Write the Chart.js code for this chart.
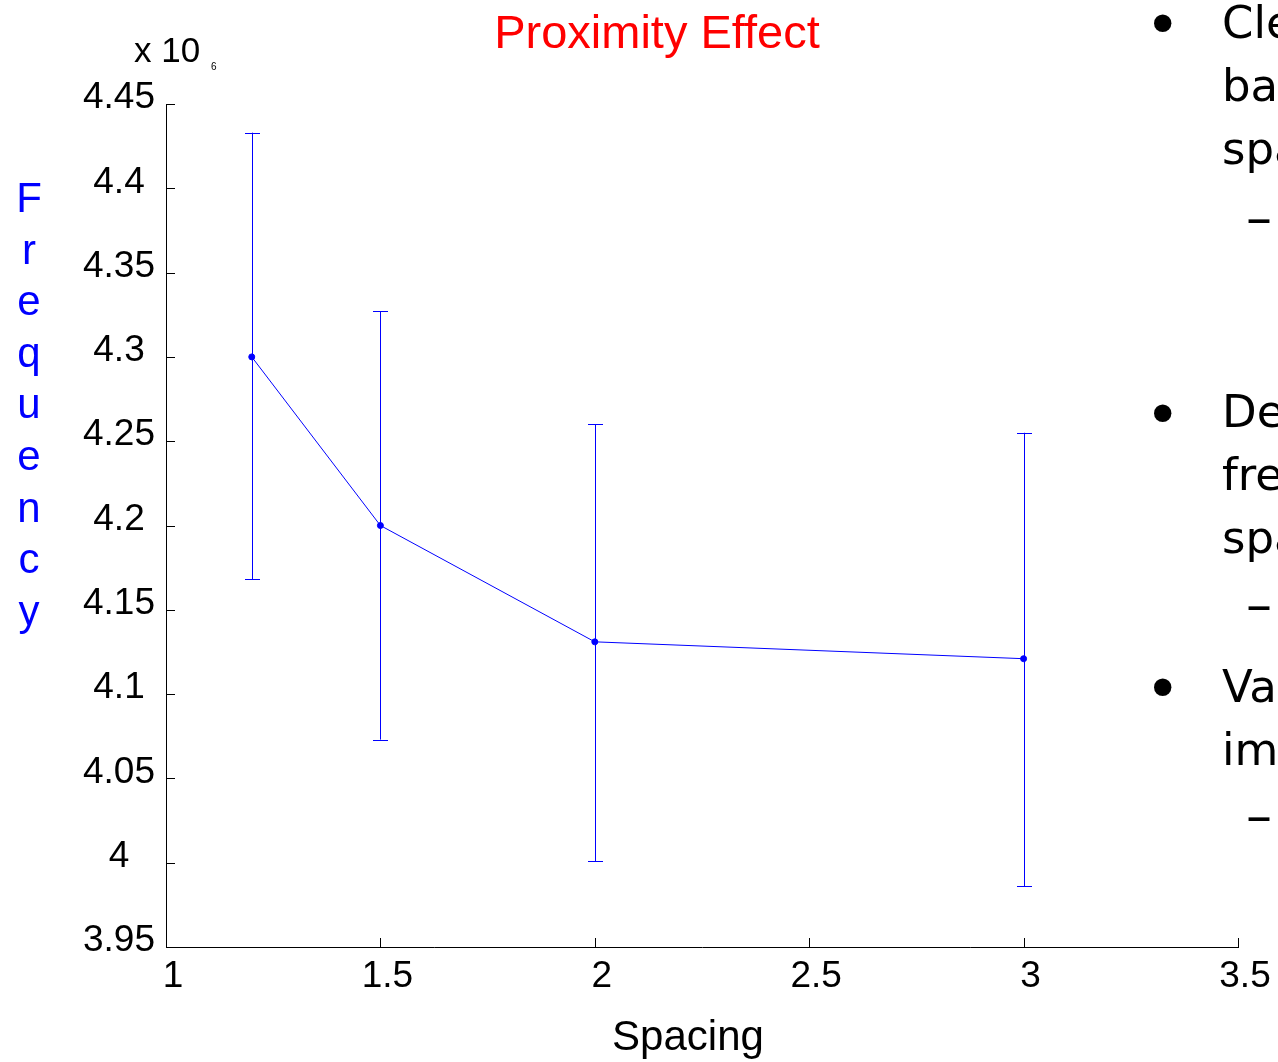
<!DOCTYPE html>
<html>
<head>
<meta charset="utf-8">
<script src="https://cdn.jsdelivr.net/npm/chart.js@4.4.1/dist/chart.umd.min.js"></script>
<style>
  html, body { margin: 0; padding: 0; background: #fff; overflow: hidden; }
  #wrap { position: relative; width: 1278px; height: 1062px; overflow: hidden; }
  #chart { position: absolute; left: 0; top: 0; }
  .lbl { position: absolute; font-family: 'Liberation Sans', Arial, sans-serif; line-height: 1; white-space: nowrap; }
  .slide { position: absolute; font-family: 'DejaVu Sans', Verdana, sans-serif; font-size: 45px; line-height: 45px; white-space: nowrap; color: #000; }
  .bul { font-size: 60px; line-height: 60px; }
  .dash { font-size: 52px; line-height: 52px; }
</style>
</head>
<body>
<div id="wrap">
  <canvas id="chart" width="1278" height="1062"></canvas>

  <div class="lbl" style="left:657px; top:8px; font-size:47px; color:#ff0000; transform:translateX(-50%);">Proximity Effect</div>
  <div class="lbl" style="left:134px; top:32px; font-size:35px; color:#000;">x 10</div>
  <div class="lbl" style="left:211px; top:62px; font-size:10px; color:#000;">6</div>
  <div class="lbl" style="left:8px; top:172px; width:42px; text-align:center; font-size:42px; line-height:51.6px; color:#0000ff;">F<br>r<br>e<br>q<br>u<br>e<br>n<br>c<br>y</div>
  <div class="lbl" style="left:688px; top:1015px; font-size:42px; color:#000; transform:translateX(-50%);">Spacing</div>

  <!-- slide text cut off on the right -->
  <div class="slide bul" style="left:1145px; top:-5px;">•</div>
  <div class="slide" style="left:1222px; top:0px;">Cle</div>
  <div class="slide" style="left:1222px; top:63px;">ba</div>
  <div class="slide" style="left:1222px; top:126px;">spa</div>
  <div class="slide dash" style="left:1246px; top:191px;">–</div>
  <div class="slide bul" style="left:1145px; top:385px;">•</div>
  <div class="slide" style="left:1222px; top:389px;">De</div>
  <div class="slide" style="left:1222px; top:452px;">fre</div>
  <div class="slide" style="left:1222px; top:515px;">spa</div>
  <div class="slide dash" style="left:1246px; top:578px;">–</div>
  <div class="slide bul" style="left:1145px; top:659px;">•</div>
  <div class="slide" style="left:1222px; top:664px;">Va</div>
  <div class="slide" style="left:1222px; top:727px;">im</div>
  <div class="slide dash" style="left:1246px; top:789px;">–</div>
</div>

<script>
// spacing between conductors, mean frequency (x 10^6) and error bar ends
const spacing = [1.2, 1.5, 2, 3];
const freq = [4.300, 4.200, 4.131, 4.121];
const freqHigh = [4.433, 4.327, 4.260, 4.255];
const freqLow = [4.168, 4.073, 4.001, 3.986];

const xTicks = [1, 1.5, 2, 2.5, 3, 3.5];
const yTicks = [3.95, 4, 4.05, 4.1, 4.15, 4.2, 4.25, 4.3, 4.35, 4.4, 4.45];

const blue = '#0000ff';
const tickFont = { family: "'Liberation Sans', Arial, sans-serif", size: 37 };

// error bars with caps
const errorBars = {
  id: 'errorBars',
  afterDatasetsDraw(chart) {
    const ctx = chart.ctx;
    const xs = chart.scales.x;
    const ys = chart.scales.y;
    ctx.save();
    ctx.strokeStyle = blue;
    ctx.lineWidth = 1;
    spacing.forEach((s, i) => {
      const px = Math.round(xs.getPixelForValue(s)) + 0.5;
      const top = ys.getPixelForValue(freqHigh[i]);
      const bot = ys.getPixelForValue(freqLow[i]);
      ctx.beginPath();
      ctx.moveTo(px, top);
      ctx.lineTo(px, bot);
      ctx.moveTo(px - 7.5, Math.round(top) + 0.5);
      ctx.lineTo(px + 7.5, Math.round(top) + 0.5);
      ctx.moveTo(px - 7.5, Math.round(bot) + 0.5);
      ctx.lineTo(px + 7.5, Math.round(bot) + 0.5);
      ctx.stroke();
    });
    ctx.restore();
  }
};

// matlab style ticks pointing into the plot
const inTicks = {
  id: 'inTicks',
  afterDraw(chart) {
    const ctx = chart.ctx;
    const area = chart.chartArea;
    const xs = chart.scales.x;
    const ys = chart.scales.y;
    ctx.save();
    ctx.strokeStyle = '#000';
    ctx.lineWidth = 1;
    ctx.beginPath();
    ys.ticks.forEach(t => {
      const py = Math.round(ys.getPixelForValue(t.value)) + 0.5;
      ctx.moveTo(area.left, py);
      ctx.lineTo(area.left + 9, py);
    });
    xs.ticks.forEach(t => {
      const px = Math.round(xs.getPixelForValue(t.value)) + 0.5;
      ctx.moveTo(px, area.bottom);
      ctx.lineTo(px, area.bottom - 9);
    });
    ctx.stroke();
    ctx.restore();
  }
};

new Chart(document.getElementById('chart'), {
  type: 'scatter',
  data: {
    datasets: [{
      data: spacing.map((s, i) => ({ x: s, y: freq[i] })),
      showLine: true,
      borderColor: blue,
      borderWidth: 1,
      backgroundColor: blue,
      pointRadius: 3,
      pointHoverRadius: 3
    }]
  },
  options: {
    responsive: false,
    animation: false,
    devicePixelRatio: 1,
    layout: { padding: { top: 104, right: 40, left: 0, bottom: 0 } },
    plugins: { legend: { display: false }, tooltip: { enabled: false } },
    scales: {
      x: {
        type: 'linear',
        min: 1,
        max: 3.5,
        afterFit: s => { s.height = 115; },
        afterBuildTicks: s => { s.ticks = xTicks.map(v => ({ value: v })); },
        grid: { display: false, drawTicks: false },
        border: { display: true, color: '#000', width: 1 },
        ticks: {
          font: tickFont,
          color: '#000',
          padding: 8,
          labelOffset: 7,
          autoSkip: false,
          maxRotation: 0,
          callback: v => String(v)
        }
      },
      y: {
        type: 'linear',
        min: 3.95,
        max: 4.45,
        afterFit: s => { s.width = 166; },
        afterBuildTicks: s => { s.ticks = yTicks.map(v => ({ value: v })); },
        grid: { display: false, drawTicks: false },
        border: { display: true, color: '#000', width: 1 },
        ticks: {
          font: tickFont,
          color: '#000',
          padding: 11,
          crossAlign: 'center',
          labelOffset: -6,
          autoSkip: false,
          callback: v => String(Math.round(v * 100) / 100)
        }
      }
    }
  },
  plugins: [errorBars, inTicks]
});
</script>
</body>
</html>
